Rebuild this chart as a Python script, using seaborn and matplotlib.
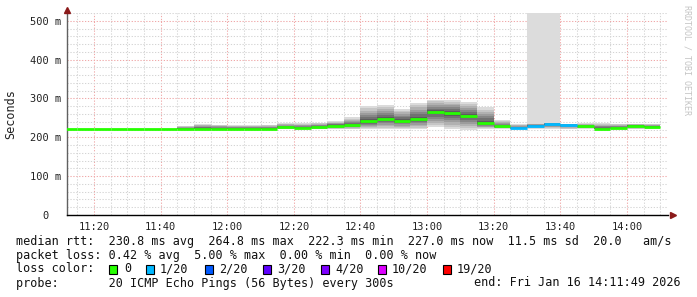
import numpy as np
import pandas as pd
import matplotlib
matplotlib.use("Agg")
import matplotlib.pyplot as plt
from matplotlib.patches import Rectangle
from matplotlib.ticker import FixedLocator, MultipleLocator, FuncFormatter
import seaborn as sns

# ---------------- data ----------------
bin_start = ["11:10", "11:15", "11:20", "11:25", "11:30", "11:35", "11:40",
             "11:45", "11:50", "11:55", "12:00", "12:05", "12:10", "12:15",
             "12:20", "12:25", "12:30", "12:35", "12:40", "12:45", "12:50",
             "12:55", "13:00", "13:05", "13:10", "13:15", "13:20", "13:25",
             "13:30", "13:35", "13:40", "13:45", "13:50", "13:55", "14:00",
             "14:05"]
median_ms = [222, 222, 222, 222, 222, 222, 222,
             222, 222.5, 222.5, 222.5, 222, 222, 226,
             224.5, 225.5, 230, 232, 241, 248, 243,
             247, 264.5, 262, 254, 237.5, 228, 223,
             230, 234, 232, 228, 222, 223, 230,
             227]
smoke_lo_ms = [222, 222, 222, 222, 222, 222, 222,
               221, 221, 221, 221, 221, 221, 221,
               221, 221, 221, 220.5, 220.5, 220.5, 220.5,
               220.5, 226, 220.5, 219, 220.5, 222, 222,
               222, 222, 221, 222, 221, 222, 221,
               222]
smoke_hi_ms = [222, 222, 222, 222, 222, 222, 222,
               229.5, 234, 232, 231, 231, 232, 236,
               236, 238, 241, 251, 280, 284, 273,
               289, 297, 297, 292, 277, 244, 234,
               236, 238, 235, 236, 236, 235, 235,
               234]
loss_of_20 = [0, 0, 0, 0, 0, 0, 0,
              0, 0, 0, 0, 0, 0, 0,
              0, 0, 0, 0, 0, 0, 0,
              0, 0, 0, 0, 0, 0, 1,
              1, 1, 1, 0, 0, 0, 0,
              0]
offscale_bins = ["13:30", "13:35"]

loss_levels = [0, 1, 2, 3, 4, 10, 19]
loss_colors = ["#26ff00", "#00b8ff", "#0059ff", "#5e00ff", "#7e00ff", "#dd00ff", "#ff0000"]
loss_labels = ["0", "1/20", "2/20", "3/20", "4/20", "10/20", "19/20"]

x_tick_labels = ["11:20", "11:40", "12:00", "12:20", "12:40", "13:00", "13:20", "13:40", "14:00"]
y_tick_values = [0, 100, 200, 300, 400, 500]
y_tick_labels = ["0", "100 m", "200 m", "300 m", "400 m", "500 m"]

line_rtt = "median rtt:  230.8 ms avg  264.8 ms max  222.3 ms min  227.0 ms now  11.5 ms sd  20.0   am/s"
line_loss = "packet loss: 0.42 % avg  5.00 % max  0.00 % min  0.00 % now"
line_probe = "probe:       20 ICMP Echo Pings (56 Bytes) every 300s"
line_end = "end: Fri Jan 16 14:11:49 2026"

BIN_MIN = 5


def to_min(s):
    h, m = s.split(":")
    return int(h) * 60 + int(m)


t0 = np.array([to_min(s) for s in bin_start], dtype=float)
med = np.array(median_ms, dtype=float)
lo = np.array(smoke_lo_ms, dtype=float)
hi = np.array(smoke_hi_ms, dtype=float)

# ---------------- figure ----------------
sns.set_theme(style="white")
plt.rcParams["font.family"] = ["DejaVu Sans Mono", "DejaVu Sans"]

W, H = 697, 297
fig = plt.figure(figsize=(W / 100, H / 100), dpi=100)
fig.patch.set_facecolor("white")
ax_l, ax_r, ax_b, ax_t = 67, 668, 215, 13
ax = fig.add_axes([ax_l / W, 1 - ax_b / H, (ax_r - ax_l) / W, (ax_b - ax_t) / H])
ax.set_facecolor("white")

px_per_min = 3.331
xmin = to_min("11:20") - (94 - ax_l) / px_per_min
xmax = xmin + (ax_r - ax_l) / px_per_min
YMAX = 520
ax.set_xlim(xmin, xmax)
ax.set_ylim(0, YMAX)

# off-scale columns (lost top pings)
for s in offscale_bins:
    i = bin_start.index(s)
    ax.bar(t0[i], YMAX - lo[i], bottom=lo[i], width=BIN_MIN, align="edge",
           color="#dcdcdc", linewidth=0, zorder=1)

# smoke: nested bands from the envelope towards the median
n_layers = 7
greys = np.linspace(0.86, 0.36, n_layers)
for k in range(n_layers):
    f = k / n_layers
    l_k = lo + (med - lo) * f
    h_k = hi - (hi - med) * f
    g = greys[k]
    ax.bar(t0, h_k - l_k, bottom=l_k, width=BIN_MIN, align="edge",
           color=(g, g, g), linewidth=0, zorder=1.1 + k * 0.01)

# median line coloured by loss
rows = []
for i in range(len(t0)):
    rows.append({"t": t0[i], "ms": med[i], "loss": loss_of_20[i], "seg": i})
    rows.append({"t": t0[i] + BIN_MIN, "ms": med[i], "loss": loss_of_20[i], "seg": i})
df = pd.DataFrame(rows)
present = sorted(df["loss"].unique())
pal = {lv: loss_colors[loss_levels.index(lv)] for lv in present}
sns.lineplot(data=df, x="t", y="ms", hue="loss", units="seg", estimator=None,
             palette=pal, hue_order=present, linewidth=2.0, legend=False,
             solid_capstyle="butt", ax=ax, zorder=3)

# ---------------- axes, grid ----------------
ax.xaxis.set_major_locator(FixedLocator([to_min(s) for s in x_tick_labels]))
ax.xaxis.set_minor_locator(MultipleLocator(5))
ax.xaxis.set_major_formatter(FuncFormatter(lambda v, p: f"{int(v // 60):02d}:{int(round(v % 60)):02d}"))
ax.yaxis.set_major_locator(FixedLocator(y_tick_values))
ax.yaxis.set_minor_locator(MultipleLocator(20))
ax.set_yticklabels(y_tick_labels)

ax.set_axisbelow(True)
ax.grid(which="minor", color="#d4d4d4", linestyle=(0, (1.2, 1.6)), linewidth=0.75)
ax.grid(which="major", color="#f0a8a8", linestyle=(0, (1.2, 1.6)), linewidth=0.75)

for sp in ["top", "right"]:
    ax.spines[sp].set_visible(False)
ax.spines["left"].set_color("#606060")
ax.spines["left"].set_linewidth(1.0)
ax.spines["bottom"].set_color("black")
ax.spines["bottom"].set_linewidth(1.0)

ax.tick_params(axis="x", which="major", length=2.5, width=0.8, color="#e08080",
               pad=2.5, labelsize=7.5, labelcolor="#222222")
ax.tick_params(axis="x", which="minor", length=2.0, width=0.8, color="#b0b0b0")
ax.tick_params(axis="y", which="major", length=2.2, width=0.8, color="#e08080",
               pad=13.5, labelsize=7.5, labelcolor="#222222")
ax.tick_params(axis="y", which="minor", length=2.0, width=0.8, color="#b0b0b0")
for lab in ax.get_yticklabels():
    lab.set_horizontalalignment("center")

ax.set_xlabel("")
ax.set_ylabel("Seconds", fontsize=8.5, color="#222222")
ax.yaxis.set_label_coords(-0.083, 0.5)

# axis arrows
ax.plot([0], [1.015], marker="^", markersize=4.5, color="#8b1a1a",
        transform=ax.transAxes, clip_on=False, zorder=5)
ax.plot([1.008], [0], marker=">", markersize=4.5, color="#8b1a1a",
        transform=ax.transAxes, clip_on=False, zorder=5)

# watermark
fig.text(687 / W, 1 - 5 / H, "RRDTOOL / TOBI OETIKER", rotation=270,
         ha="center", va="top", fontsize=6, color="#c4c4c4")

# ---------------- legend text ----------------
fs = 8.5
fig.text(16 / W, 1 - 241 / H, line_rtt, ha="left", va="center", fontsize=fs, color="#111111")
fig.text(16 / W, 1 - 255 / H, line_loss, ha="left", va="center", fontsize=fs, color="#111111")
fig.text(16 / W, 1 - 269 / H, "loss color:", ha="left", va="center", fontsize=fs, color="#111111")
sq_x = [109, 146, 205, 263, 321, 378, 443]
lab_x = [124, 160, 219, 277, 335, 392, 457]
for c, lbl, sx, lx in zip(loss_colors, loss_labels, sq_x, lab_x):
    fig.add_artist(Rectangle((sx / W, 1 - 273.5 / H), 8 / W, 9 / H,
                             transform=fig.transFigure, facecolor=c,
                             edgecolor="black", linewidth=0.8))
    fig.text(lx / W, 1 - 269 / H, lbl, ha="left", va="center", fontsize=fs, color="#111111")
fig.text(16 / W, 1 - 283 / H, line_probe, ha="left", va="center", fontsize=fs, color="#111111")
fig.text(681 / W, 1 - 283 / H, line_end, ha="right", va="center", fontsize=fs, color="#111111")

fig.savefig("out.png", dpi=100, facecolor="white")
